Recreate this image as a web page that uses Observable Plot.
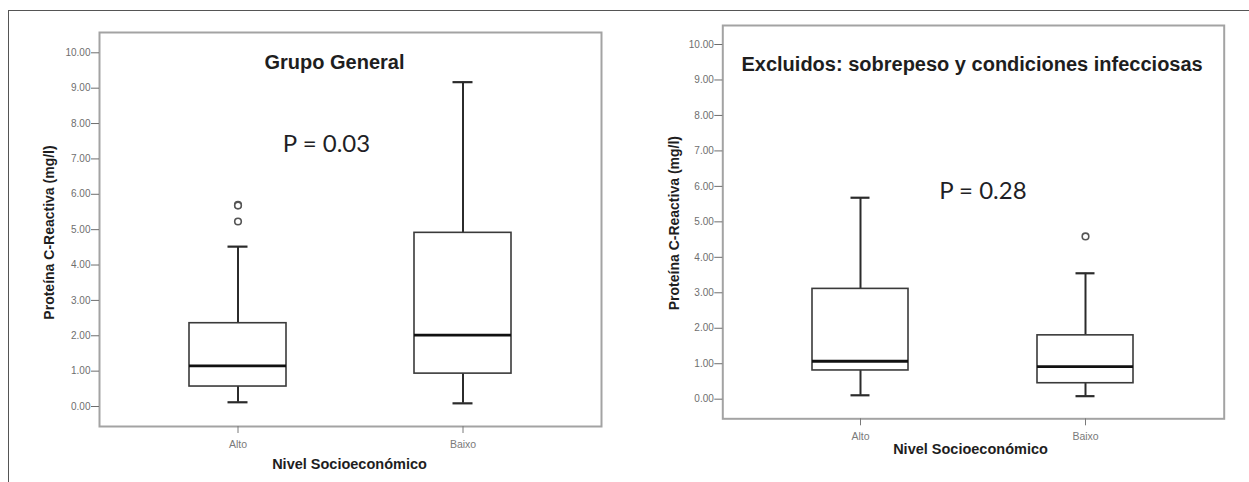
<!DOCTYPE html>
<html><head><meta charset="utf-8">
<script src="https://cdn.jsdelivr.net/npm/d3@7"></script>
<script src="https://cdn.jsdelivr.net/npm/@observablehq/plot@0.6"></script>
<style>
body{margin:0;background:#fff;}
#wrap{position:relative;width:1249px;height:482px;overflow:hidden;font-family:"Liberation Sans",Arial,sans-serif;background:#fff;}
#border{position:absolute;left:8px;top:10px;width:1300px;height:600px;border-left:1.5px solid #555;border-top:1.5px solid #555;}
#p1{position:absolute;left:0;top:0;}
#p2{position:absolute;left:620px;top:0;}
svg{overflow:visible;}
</style></head><body>
<div id="wrap"><div id="border"></div><div id="p1"></div><div id="p2"></div></div>
<script>
// ---- data ----
const categories = ["Alto", "Baixo"];
const yTicks = [0, 1, 2, 3, 4, 5, 6, 7, 8, 9, 10];
const yLabel = "Proteína C-Reactiva (mg/l)";
const xLabel = "Nivel Socioeconómico";

// Panel 1: Grupo General
const title1 = "Grupo General";
const pText1 = "P = 0.03";
const low1 = [0.12, 0.09];
const q1_1 = [0.565, 0.93];
const med1 = [1.15, 2.02];
const q3_1 = [2.355, 4.91];
const high1 = [4.52, 9.17];
const outCat1 = ["Alto", "Alto", "Alto"];
const outVal1 = [5.70, 5.68, 5.23];

// Panel 2: Excluidos
const title2 = "Excluidos: sobrepeso y condiciones infecciosas";
const pText2 = "P = 0.28";
const low2 = [0.11, 0.085];
const q1_2 = [0.81, 0.45];
const med2 = [1.07, 0.92];
const q3_2 = [3.11, 1.80];
const high2 = [5.68, 3.55];
const outCat2 = ["Baixo"];
const outVal2 = [4.59];

function rowsOf(low, q1, med, q3, high) {
  return categories.map((c, i) => ({cat: c, low: low[i], q1: q1[i], median: med[i], q3: q3[i], high: high[i]}));
}
function outsOf(cats, vals) {
  return cats.map((c, i) => ({cat: c, value: vals[i]}));
}

function panel(rows, outs, cfg) {
  const capInset = 38.5;
  return Plot.plot({
    width: cfg.width, height: 482,
    marginLeft: cfg.ml, marginRight: cfg.mr, marginTop: cfg.mt, marginBottom: cfg.mb,
    style: {fontFamily: "Liberation Sans, Arial, sans-serif", background: "transparent", overflow: "visible"},
    x: {domain: categories, paddingInner: cfg.pi, paddingOuter: cfg.po, axis: null},
    y: {domain: cfg.ydom, axis: null},
    marks: [
      Plot.frame({stroke: "#a3a3a3", strokeWidth: 2}),
      Plot.axisY({ticks: yTicks, tickFormat: d3.format(".2f"), tickSize: 8, tickPadding: 1, fontSize: 10, color: "#6e6e6e", label: null}),
      Plot.axisX({tickSize: 7, tickPadding: 7, fontSize: 10.5, color: "#7a7a7a", label: null}),
      Plot.ruleX(rows, {x: "cat", y1: "low", y2: "high", stroke: "#2b2b2b", strokeWidth: 2}),
      Plot.tickY(rows, {x: "cat", y: "low", insetLeft: capInset, insetRight: capInset, stroke: "#2b2b2b", strokeWidth: 2.2}),
      Plot.tickY(rows, {x: "cat", y: "high", insetLeft: capInset, insetRight: capInset, stroke: "#2b2b2b", strokeWidth: 2.2}),
      Plot.barY(rows, {x: "cat", y1: "q1", y2: "q3", fill: "white", stroke: "#3a3a3a", strokeWidth: 1.6}),
      Plot.tickY(rows, {x: "cat", y: "median", stroke: "#111", strokeWidth: 2.8}),
      Plot.dot(outs, {x: "cat", y: "value", r: 3.3, stroke: "#555", strokeWidth: 1.6, fill: "white"}),
      Plot.text([cfg.title], {text: d => d, frameAnchor: "top", lineAnchor: "middle", textAnchor: "middle", dx: cfg.tdx, dy: cfg.tdy, fontSize: 20, fontWeight: "bold", fill: "#1e1e1e"}),
      Plot.text([cfg.p], {text: d => d, frameAnchor: "top", lineAnchor: "middle", textAnchor: "middle", dx: cfg.pdx, dy: cfg.pdy, fontSize: 24, fontFamily: "Lato, Open Sans, sans-serif", fill: "#1f1f26"}),
      Plot.text([yLabel], {text: d => d, frameAnchor: "left", lineAnchor: "middle", textAnchor: "middle", rotate: -90, dx: cfg.ydx, dy: cfg.ydy, fontSize: 14, fontWeight: "bold", fill: "#1e1e1e"}),
      Plot.text([xLabel], {text: d => d, frameAnchor: "bottom", lineAnchor: "middle", textAnchor: "middle", dx: cfg.xdx, dy: cfg.xdy, fontSize: 14.5, fontWeight: "bold", fill: "#1e1e1e"})
    ]
  });
}

document.getElementById("p1").append(panel(
  rowsOf(low1, q1_1, med1, q3_1, high1), outsOf(outCat1, outVal1),
  {width: 620, ml: 99, mr: 19, mt: 32, mb: 56, pi: 0.5695, po: 0.399, ydom: [-0.565, 10.574],
   title: title1, tdx: -16, tdy: 30, p: pText1, pdx: -24, pdy: 112,
   ydx: -50, ydy: 3, xdx: -1, xdy: 38}
));
document.getElementById("p2").append(panel(
  rowsOf(low2, q1_2, med2, q3_2, high2), outsOf(outCat2, outVal2),
  {width: 629, ml: 102.3, mr: 25.3, mt: 25, mb: 63.7, pi: 0.572, po: 0.398, ydom: [-0.553, 10.536],
   title: title2, tdx: -1.4, tdy: 39, p: pText2, pdx: 9.4, pdy: 166,
   ydx: -48.3, ydy: 1, xdx: -3, xdy: 31}
));
</script>
</body></html>
